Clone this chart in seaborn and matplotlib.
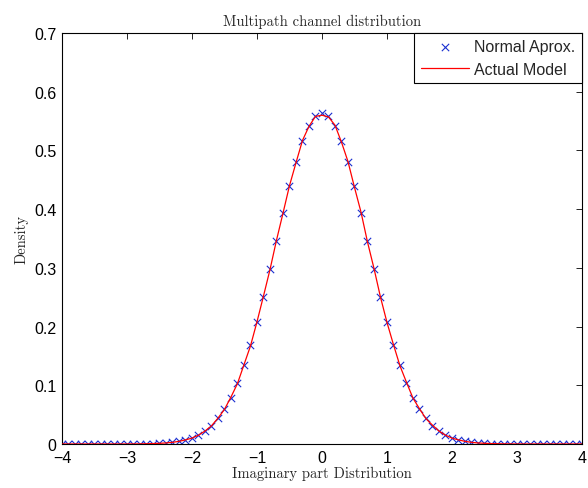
import pandas as pd
import seaborn as sns
import matplotlib.pyplot as plt

# valeurs (pas de 0.1 entre -4 et 4)
x_vals = [round(-4 + 0.1 * i, 1) for i in range(81)]

# demi-courbe droite (x = 0.0 ... 4.0), symetrique
half_approx = [0.564, 0.559, 0.542, 0.516, 0.480, 0.439, 0.394, 0.346, 0.298, 0.251,
               0.208, 0.168, 0.134, 0.104, 0.079, 0.059, 0.044, 0.031, 0.022, 0.015,
               0.010, 0.007, 0.0045, 0.0028, 0.0018, 0.0011, 0.0007, 0.0004, 0.0002, 0.0001,
               0.0, 0.0, 0.0, 0.0, 0.0, 0.0, 0.0, 0.0, 0.0, 0.0, 0.0]
approx_vals = half_approx[:0:-1] + half_approx

model_right = [0.560, 0.557, 0.543, 0.514, 0.481, 0.437, 0.395, 0.344, 0.299, 0.250,
               0.207, 0.169, 0.133, 0.105, 0.078, 0.060, 0.043, 0.032, 0.022, 0.015,
               0.010, 0.007, 0.0045, 0.0028, 0.0018, 0.0011, 0.0007, 0.0004, 0.0002, 0.0001,
               0.0, 0.0, 0.0, 0.0, 0.0, 0.0, 0.0, 0.0, 0.0, 0.0, 0.0]
model_left = [0.560, 0.558, 0.541, 0.517, 0.479, 0.440, 0.393, 0.347, 0.297, 0.252,
              0.208, 0.167, 0.135, 0.103, 0.080, 0.059, 0.044, 0.031, 0.022, 0.015,
              0.010, 0.007, 0.0045, 0.0028, 0.0018, 0.0011, 0.0007, 0.0004, 0.0002, 0.0001,
              0.0, 0.0, 0.0, 0.0, 0.0, 0.0, 0.0, 0.0, 0.0, 0.0, 0.0]
model_vals = model_left[:0:-1] + model_right

x_ticks = [-4, -3, -2, -1, 0, 1, 2, 3, 4]
y_ticks = [0, 0.1, 0.2, 0.3, 0.4, 0.5, 0.6, 0.7]

df = pd.DataFrame({'x': x_vals, 'approx': approx_vals, 'model': model_vals})

sns.set_style('white')
plt.rcParams['font.family'] = ['Liberation Sans', 'DejaVu Sans']
plt.rcParams['axes.unicode_minus'] = True

fig = plt.figure(figsize=(5.88, 4.89), dpi=100)
ax = fig.add_axes([0.1054, 0.0900, 0.8844, 0.8405])

sns.scatterplot(data=df, x='x', y='approx', marker='x', color='#1a2fd0', s=28,
                linewidth=0.8, ax=ax, label='Normal Aprox.', zorder=2)
sns.lineplot(data=df, x='x', y='model', color='#ff0000', linewidth=0.9,
             ax=ax, label='Actual Model', zorder=3)

ax.set_xlim(-4, 4)
ax.set_ylim(0, 0.7)
ax.set_xticks(x_ticks)
ax.set_yticks(y_ticks)
ax.set_xticklabels([str(t).replace('-', '\u2212') for t in x_ticks])
ax.set_yticklabels(['0'] + ['%.1f' % t for t in y_ticks[1:]])
ax.tick_params(direction='in', length=4, width=0.6, top=True, right=True,
               labelsize=11.5, colors='black', pad=4)
for s in ax.spines.values():
    s.set_visible(True)
    s.set_color('black')
    s.set_linewidth(0.8)

ax.set_title('Multipath channel distribution', family='cmr10', fontsize=10.5, pad=6)
ax.set_xlabel('Imaginary part Distribution', family='cmr10', fontsize=10.5, labelpad=1)
ax.set_ylabel('Density', family='cmr10', fontsize=10.5, labelpad=4)

leg = ax.legend(loc='upper right', borderaxespad=0, fancybox=False, framealpha=1,
                edgecolor='black', fontsize=11.5, handlelength=3.0, handletextpad=0.35,
                borderpad=0.4, labelspacing=0.45)
leg.get_frame().set_linewidth(0.8)

plt.savefig('out.png', dpi=100)
plt.close()
